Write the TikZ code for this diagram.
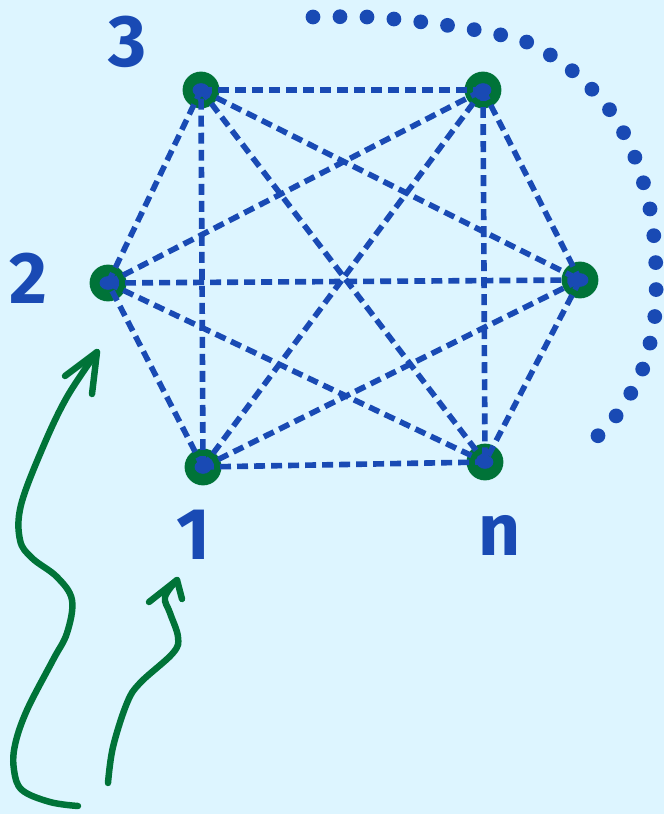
\documentclass[tikz,border=0pt]{standalone}
\usepackage{fontspec}
\setsansfont{Fira Sans}
\usepackage{tikz}
\usetikzlibrary{arrows.meta}
\definecolor{cliquebg}{RGB}{221,245,255}
\definecolor{cliqueblue}{RGB}{25,74,180}
\definecolor{cliquegreen}{RGB}{0,115,56}

\begin{document}
\begin{tikzpicture}[x=0.025cm, y=-0.025cm,
  vert/.style={circle, fill=cliquegreen, minimum size=0.92cm, inner sep=0pt,
    path picture={\fill[cliqueblue] (path picture bounding box.center) ellipse (0.21cm and 0.17cm);}},
  lbl/.style={font=\sffamily\bfseries\fontsize{52}{52}\selectfont, text=cliqueblue, inner sep=0pt},
  kedge/.style={cliqueblue, line width=4pt, dash pattern=on 7.8pt off 4.3pt},
  arcdots/.style={cliqueblue, line width=10.5pt, line cap=round, dash pattern=on 0pt off 19.2pt},
  hand/.style={cliquegreen, line width=4.6pt, line cap=round, line join=round}
]
\fill[cliquebg] (0,0) rectangle (664,814);
\useasboundingbox (0,0) rectangle (664,814);

% vertices of the clique
\node[vert] (v1) at (203,467) {};
\node[vert] (v2) at (108,283) {};
\node[vert] (v3) at (201,90) {};
\node[vert] (v4) at (483,90) {};
\node[vert] (v5) at (580,280) {};
\node[vert] (vn) at (485,462) {};

\node[lbl] (l1) at (193,535) {1};
\node[lbl] (l2) at (28,278) {2};
\node[lbl] (l3) at (128,42) {3};
\node[lbl] (ln) at (500,535) {n};

% every pair joined
\foreach \a/\b in {v1/v2, v1/v3, v1/v4, v1/v5, v1/vn,
                   v2/v3, v2/v4, v2/v5, v2/vn,
                   v3/v4, v3/v5, v3/vn,
                   v4/v5, v4/vn,
                   v5/vn}
  \draw[kedge] (\a.center) -- (\b.center);

% more vertices
\draw[arcdots] plot[smooth] coordinates {(313,17) (367,17) (422,22) (476,30) (529,43)
  (575,73) (612,113) (636,160) (651,214) (656,270) (654,323) (640,376) (611,423) (591,441)};

% hand drawn arrows
\coordinate (tip2) at (97,352);
\coordinate (tip1) at (177,580);
\draw[hand] plot[smooth, tension=0.6] coordinates {(78,806) (50,802) (22,790) (14,770) (15,745)
  (27,710) (53,660) (67,633) (72,600) (57,577) (32,558) (20,540) (21,505) (43,447) (67,397) (97,352)};
\draw[hand] (65,376) -- (tip2) -- (92,394);
\draw[hand] plot[smooth, tension=0.6] coordinates {(108,783) (113,747) (127,703) (140,683)
  (173,653) (178,637) (170,613) (165,597) (177,580)};
\draw[hand] (149,602) -- (tip1) -- (182,599);
\end{tikzpicture}
\end{document}
